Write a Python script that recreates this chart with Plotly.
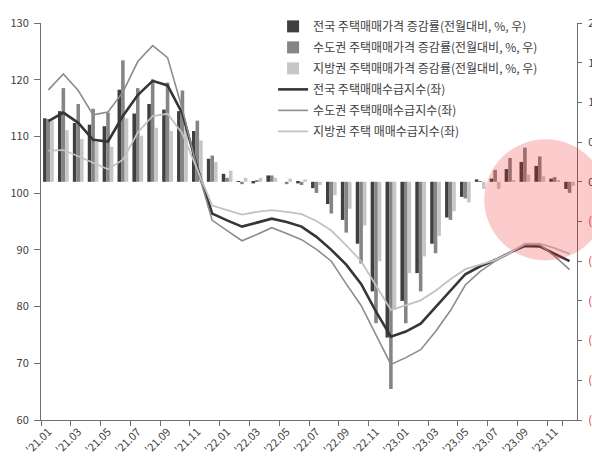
import plotly.graph_objects as go

# Monthly categories, Jan 2021 - Dec 2023
months = [
    "'21.01", "'21.02", "'21.03", "'21.04", "'21.05", "'21.06",
    "'21.07", "'21.08", "'21.09", "'21.10", "'21.11", "'21.12",
    "'22.01", "'22.02", "'22.03", "'22.04", "'22.05", "'22.06",
    "'22.07", "'22.08", "'22.09", "'22.10", "'22.11", "'22.12",
    "'23.01", "'23.02", "'23.03", "'23.04", "'23.05", "'23.06",
    "'23.07", "'23.08", "'23.09", "'23.10", "'23.11", "'23.12",
]

# Month-on-month change in housing sale prices (%, right axis)
nat_chg = [0.80, 0.89, 0.74, 0.72, 0.70, 1.16, 0.86, 0.98, 0.91, 0.89, 0.64, 0.29,
           0.10, 0.01, -0.02, 0.08, 0.00, -0.02, -0.08, -0.28, -0.48, -0.78, -1.38, -1.96,
           -1.50, -1.15, -0.78, -0.45, -0.19, 0.03, 0.04, 0.16, 0.25, 0.20, 0.04, -0.09]
cap_chg = [0.79, 1.18, 0.98, 0.92, 0.87, 1.53, 1.18, 1.29, 1.25, 1.15, 0.77, 0.33,
           0.05, -0.03, 0.02, 0.08, -0.03, -0.04, -0.14, -0.40, -0.64, -1.03, -1.78, -2.61,
           -1.78, -1.38, -0.90, -0.48, -0.21, 0.01, 0.15, 0.30, 0.43, 0.32, 0.06, -0.14]
loc_chg = [0.77, 0.65, 0.54, 0.50, 0.44, 0.80, 0.58, 0.68, 0.64, 0.68, 0.52, 0.25,
           0.14, 0.05, 0.05, 0.05, 0.04, 0.03, -0.04, -0.17, -0.34, -0.55, -1.00, -1.61,
           -1.15, -0.94, -0.68, -0.37, -0.26, -0.09, -0.09, 0.02, 0.09, 0.07, 0.02, -0.05]

# Housing sale supply-demand index (left axis)
nat_idx = [112.7, 114.2, 112.4, 109.4, 109.1, 113.6, 117.3, 119.8, 119.0, 114.0, 104.5, 96.4,
           95.2, 94.1, 94.8, 95.5, 94.9, 94.1, 92.3, 90.0, 87.4, 84.0, 79.1, 74.7,
           75.6, 77.0, 79.9, 82.8, 85.7, 87.1, 88.2, 89.5, 90.7, 90.6, 89.3, 88.0]
cap_idx = [118.2, 121.0, 118.1, 113.8, 114.3, 117.8, 123.2, 126.0, 123.9, 114.8, 104.2, 95.2,
           93.4, 91.6, 92.7, 93.9, 92.9, 91.8, 90.1, 88.0, 84.0, 80.2, 75.0, 69.8,
           71.0, 72.4, 75.6, 79.3, 83.8, 86.2, 88.0, 89.5, 90.9, 90.9, 88.9, 86.5]
loc_idx = [107.5, 107.6, 106.5, 105.3, 104.2, 105.9, 110.7, 113.6, 114.0, 110.5, 104.0, 97.8,
           97.0, 96.2, 96.7, 97.0, 96.7, 96.3, 95.1, 93.4, 90.8, 88.0, 83.7, 79.4,
           80.2, 81.1, 82.8, 84.8, 86.6, 87.4, 88.2, 89.5, 91.1, 91.1, 90.3, 89.3]

left_ticks = [60, 70, 80, 90, 100, 110, 120, 130]
right_ticks = [-3.0, -2.5, -2.0, -1.5, -1.0, -0.5, 0.0, 0.5, 1.0, 1.5, 2.0]


def right_label(v):
    if v < 0:
        return "<span style='color:#e03030'>(%.1f)</span>" % abs(v)
    return "%.1f" % v


FONT = "Noto Sans CJK KR"
AXIS = "#6e6e6e"

fig = go.Figure()

bar_specs = [
    ("전국 주택매매가격 증감률(전월대비, %, 우)", nat_chg, "#3f3f3f"),
    ("수도권 주택매매가격 증감률(전월대비, %, 우)", cap_chg, "#858585"),
    ("지방권 주택매매가격 증감률(전월대비, %, 우)", loc_chg, "#c6c6c6"),
]
for i, (name, vals, color) in enumerate(bar_specs):
    fig.add_trace(go.Bar(
        x=months, y=vals, name=name, yaxis="y",
        marker=dict(color=color, line=dict(width=0)),
        legendgroup="g%d" % i,
    ))

line_specs = [
    ("전국 주택매매수급지수(좌)", nat_idx, "#363636", 2.6),
    ("수도권 주택매매수급지수(좌)", cap_idx, "#8c8c8c", 1.6),
    ("지방권 주택 매매수급지수(좌)", loc_idx, "#c2c2c2", 1.8),
]
for i, (name, vals, color, width) in enumerate(line_specs):
    fig.add_trace(go.Scatter(
        x=months, y=vals, name=name, yaxis="y2", mode="lines",
        line=dict(color=color, width=width),
        legendgroup="l%d" % i,
    ))

fig.update_layout(
    width=592, height=457,
    margin=dict(l=41, r=15, t=17, b=37),
    paper_bgcolor="white", plot_bgcolor="white",
    font=dict(family=FONT, size=11, color="#404040"),
    barmode="group", bargap=0.28, bargroupgap=0.0,
    showlegend=True,
    legend=dict(
        x=0.433, y=1.028, xanchor="left", yanchor="top",
        bgcolor="rgba(0,0,0,0)", borderwidth=0,
        font=dict(family=FONT, size=12, color="#404040"),
        tracegroupgap=2, traceorder="grouped",
    ),
    xaxis=dict(
        type="category", categoryorder="array", categoryarray=months,
        range=[-0.5, len(months) - 0.5],
        tickmode="array", tickvals=months[::2], ticktext=months[::2],
        tickson="boundaries", ticks="outside", ticklen=5, tickcolor=AXIS,
        tickangle=-45, tickfont=dict(size=11),
        showline=True, linecolor=AXIS, linewidth=1,
        showgrid=False, zeroline=False, automargin=False,
    ),
    yaxis=dict(
        side="right", range=[-3.0, 2.0],
        tickmode="array", tickvals=right_ticks,
        ticktext=[right_label(v) for v in right_ticks],
        ticks="outside", ticklen=4, tickcolor=AXIS, ticklabelstandoff=4,
        showline=True, linecolor=AXIS, linewidth=1,
        showgrid=False, zeroline=False, automargin=False,
    ),
    yaxis2=dict(
        side="left", overlaying="y", range=[60, 130],
        tickmode="array", tickvals=left_ticks,
        ticks="outside", ticklen=6, tickcolor=AXIS, ticklabelstandoff=3,
        showline=True, linecolor=AXIS, linewidth=1,
        showgrid=False, zeroline=False, automargin=False,
    ),
    shapes=[dict(
        type="circle", xref="paper", yref="paper",
        x0=0.827, x1=1.056, y0=0.402, y1=0.707,
        fillcolor="rgba(240,30,30,0.23)", line=dict(width=0), layer="above",
    )],
)

fig.write_html("out.html")
